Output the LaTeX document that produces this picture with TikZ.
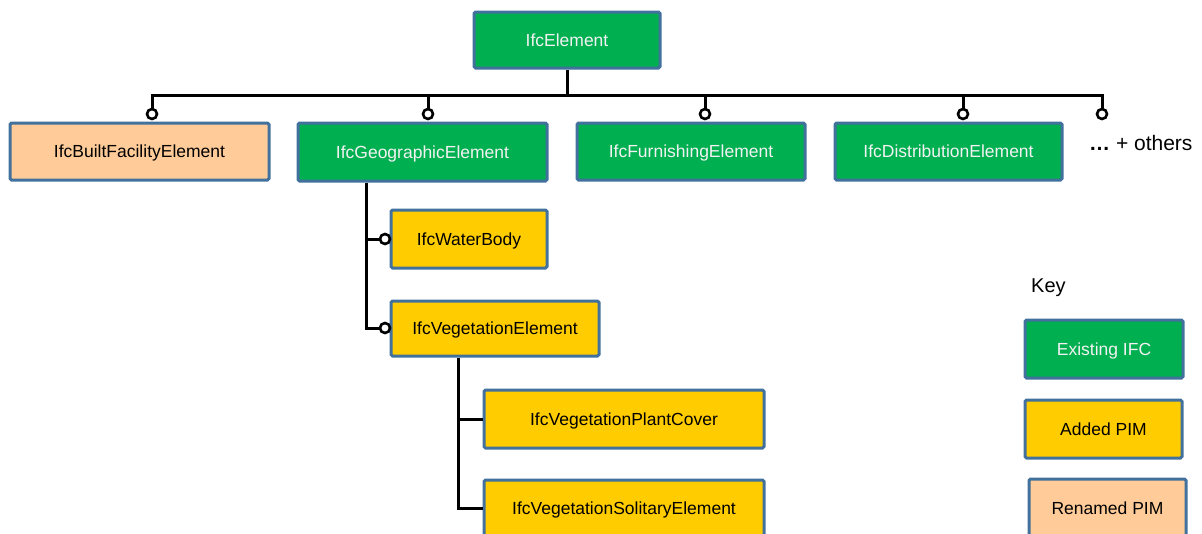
\documentclass[tikz,border=0pt]{standalone}
\usepackage{fontspec}
\setmainfont{Liberation Sans}
\definecolor{ifcgreen}{HTML}{00B050}
\definecolor{pimgold}{HTML}{FFCC00}
\definecolor{pimpeach}{HTML}{FFCC99}
\definecolor{bordc}{HTML}{41719C}
\definecolor{lighttext}{HTML}{F2F2F2}
\begin{document}
\begin{tikzpicture}[x=1pt,y=-1pt,
  box/.style={draw=bordc, line width=3pt, rounded corners=1.5pt, inner sep=0pt,
    text height=12.5pt, text depth=0pt,
    font=\fontsize{17.5}{20}\selectfont},
  existing/.style={box, fill=ifcgreen, text=lighttext},
  added/.style={box, fill=pimgold, text=black},
  renamed/.style={box, fill=pimpeach, text=black},
  conn/.style={draw=black, line width=3pt},
  plain/.style={inner sep=0pt, font=\fontsize{17.5}{20}\selectfont}
]
\useasboundingbox (0,0) rectangle (1202,533);

% main nodes
\node[existing, minimum width=186pt, minimum height=56pt] (el) at (567,40) {IfcElement};
\node[renamed, minimum width=259pt, minimum height=57pt] (bf) at (139.5,151.5) {IfcBuiltFacilityElement};
\node[existing, minimum width=249pt, minimum height=58pt] (geo) at (422.5,152) {IfcGeographicElement};
\node[existing, minimum width=228pt, minimum height=57pt] (fur) at (691,151.5) {IfcFurnishingElement};
\node[existing, minimum width=227pt, minimum height=57pt] (dis) at (948.5,151.5) {IfcDistributionElement};
\node[plain, anchor=west, font=\fontsize{21}{24}\selectfont] (oth) at (1089,143) {\textbf{…} + others};

\node[added, minimum width=156pt, minimum height=58pt] (wb) at (469,239) {IfcWaterBody};
\node[added, minimum width=208pt, minimum height=55pt] (ve) at (495,328.5) {IfcVegetationElement};
\node[added, minimum width=280pt, minimum height=58pt] (pc) at (624,419) {IfcVegetationPlantCover};
\node[added, minimum width=280pt, minimum height=56pt] (se) at (624,508) {IfcVegetationSolitaryElement};

% key
\node[plain, anchor=west, font=\fontsize{20}{23}\selectfont] (key) at (1031,288) {Key};
\node[existing, minimum width=158pt, minimum height=58pt] (kex) at (1104,349) {Existing IFC};
\node[added, minimum width=157pt, minimum height=58pt] (kad) at (1103.5,429) {Added PIM};
\node[renamed, minimum width=157pt, minimum height=58pt] (krn) at (1107.5,508) {Renamed PIM};

% ring anchors
\coordinate (c1) at (152,114);
\coordinate (c2) at (428,114);
\coordinate (c3) at (705,114);
\coordinate (c4) at (963,114);
\coordinate (c5) at (1102,114);
\coordinate (cw) at (385,239);
\coordinate (cv) at (385,328);

\coordinate (busR) at (1102,95);
\coordinate (gtrunk) at (366,0);
\coordinate (vtrunk) at (458,0);

% connectors
\draw[conn] (c1) |- (busR) -- (c5);
\draw[conn] (el.south) -- (el.south |- busR);
\draw[conn] (c2) -- (c2 |- busR);
\draw[conn] (c3) -- (c3 |- busR);
\draw[conn] (c4) -- (c4 |- busR);

\draw[conn] (geo.south -| gtrunk) |- (cv);
\draw[conn] (gtrunk |- cw) -- (cw);
\draw[conn] (ve.south -| vtrunk) |- (se.west);
\draw[conn] (vtrunk |- pc) -- (pc.west);

% rings above lines
\foreach \c in {c1,c2,c3,c4,c5,cw,cv}{
  \draw[black, line width=2.6pt, fill=white] (\c) circle (5pt);
}
\end{tikzpicture}
\end{document}
